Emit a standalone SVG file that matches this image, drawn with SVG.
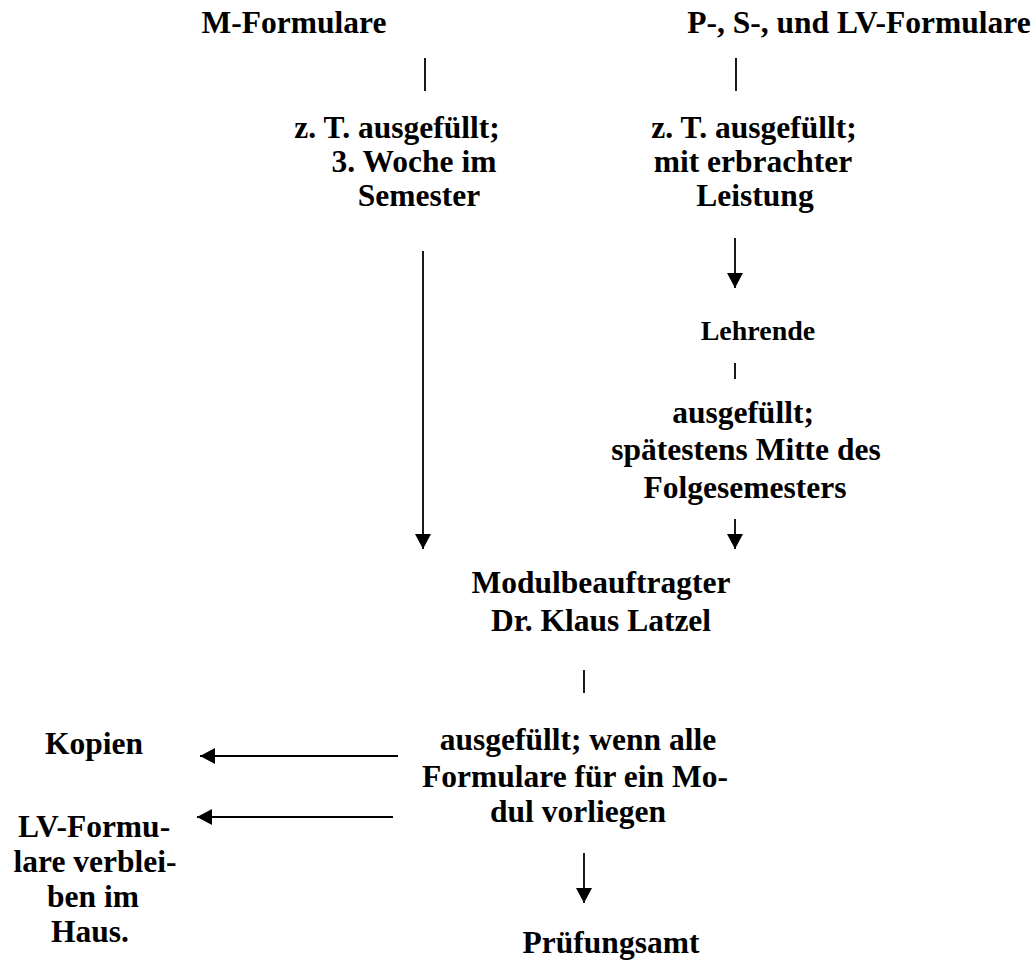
<svg xmlns="http://www.w3.org/2000/svg" width="1036" height="962" viewBox="0 0 1036 962">
<defs>
<style>
text{font-family:"Liberation Serif","Times New Roman",serif;font-weight:bold;font-size:31.5px;fill:#000;text-anchor:middle}
.small{font-size:28px}
.ln{stroke:#000;stroke-width:1.8;fill:none}
</style>
<marker id="ah" markerUnits="userSpaceOnUse" markerWidth="16" markerHeight="16" viewBox="0 0 16 16" refX="15" refY="8" orient="auto">
<path d="M0,0 L15,8 L0,16 Z" fill="#000"/>
</marker>
</defs>
<rect width="1036" height="962" fill="#fff"/>
<g id="connectors">
<line class="ln" x1="425" y1="58" x2="425" y2="91"/>
<line class="ln" x1="736" y1="58" x2="736" y2="91"/>
<line class="ln" x1="423" y1="251" x2="423" y2="549" marker-end="url(#ah)"/>
<line class="ln" x1="735" y1="238" x2="735" y2="288" marker-end="url(#ah)"/>
<line class="ln" x1="735" y1="363" x2="735" y2="379"/>
<line class="ln" x1="735" y1="519" x2="735" y2="549" marker-end="url(#ah)"/>
<line class="ln" x1="584" y1="670" x2="584" y2="693"/>
<line class="ln" x1="584" y1="853" x2="584" y2="903" marker-end="url(#ah)"/>
<line class="ln" x1="398" y1="756" x2="200" y2="756" marker-end="url(#ah)"/>
<line class="ln" x1="393" y1="817" x2="197" y2="817" marker-end="url(#ah)"/>
</g>
<g id="m-formulare"><text x="294" y="33">M-Formulare</text></g>
<g id="psl-formulare"><text x="859" y="33">P-, S-, und LV-Formulare</text></g>
<g id="m-status">
<text x="397" y="138">z. T. ausgefüllt;</text>
<text x="414" y="172">3. Woche im</text>
<text x="419" y="206">Semester</text>
</g>
<g id="p-status">
<text x="754" y="138">z. T. ausgefüllt;</text>
<text x="753" y="172">mit erbrachter</text>
<text x="755" y="206">Leistung</text>
</g>
<g id="lehrende"><text class="small" x="758" y="340">Lehrende</text></g>
<g id="lehrende-status">
<text x="743" y="423">ausgefüllt;</text>
<text x="746" y="460">spätestens Mitte des</text>
<text x="745" y="498">Folgesemesters</text>
</g>
<g id="modulbeauftragter">
<text x="601" y="593">Modulbeauftragter</text>
<text x="601" y="631">Dr. Klaus Latzel</text>
</g>
<g id="mb-status">
<text x="578" y="750">ausgefüllt; wenn alle</text>
<text x="575" y="787">Formulare für ein Mo-</text>
<text x="578" y="822">dul vorliegen</text>
</g>
<g id="pruefungsamt"><text x="611" y="953">Prüfungsamt</text></g>
<g id="kopien"><text x="94" y="754">Kopien</text></g>
<g id="lv-verbleib">
<text x="94" y="837">LV-Formu-</text>
<text x="95" y="872">lare verblei-</text>
<text x="93" y="907">ben im</text>
<text x="90" y="942">Haus.</text>
</g>
</svg>
